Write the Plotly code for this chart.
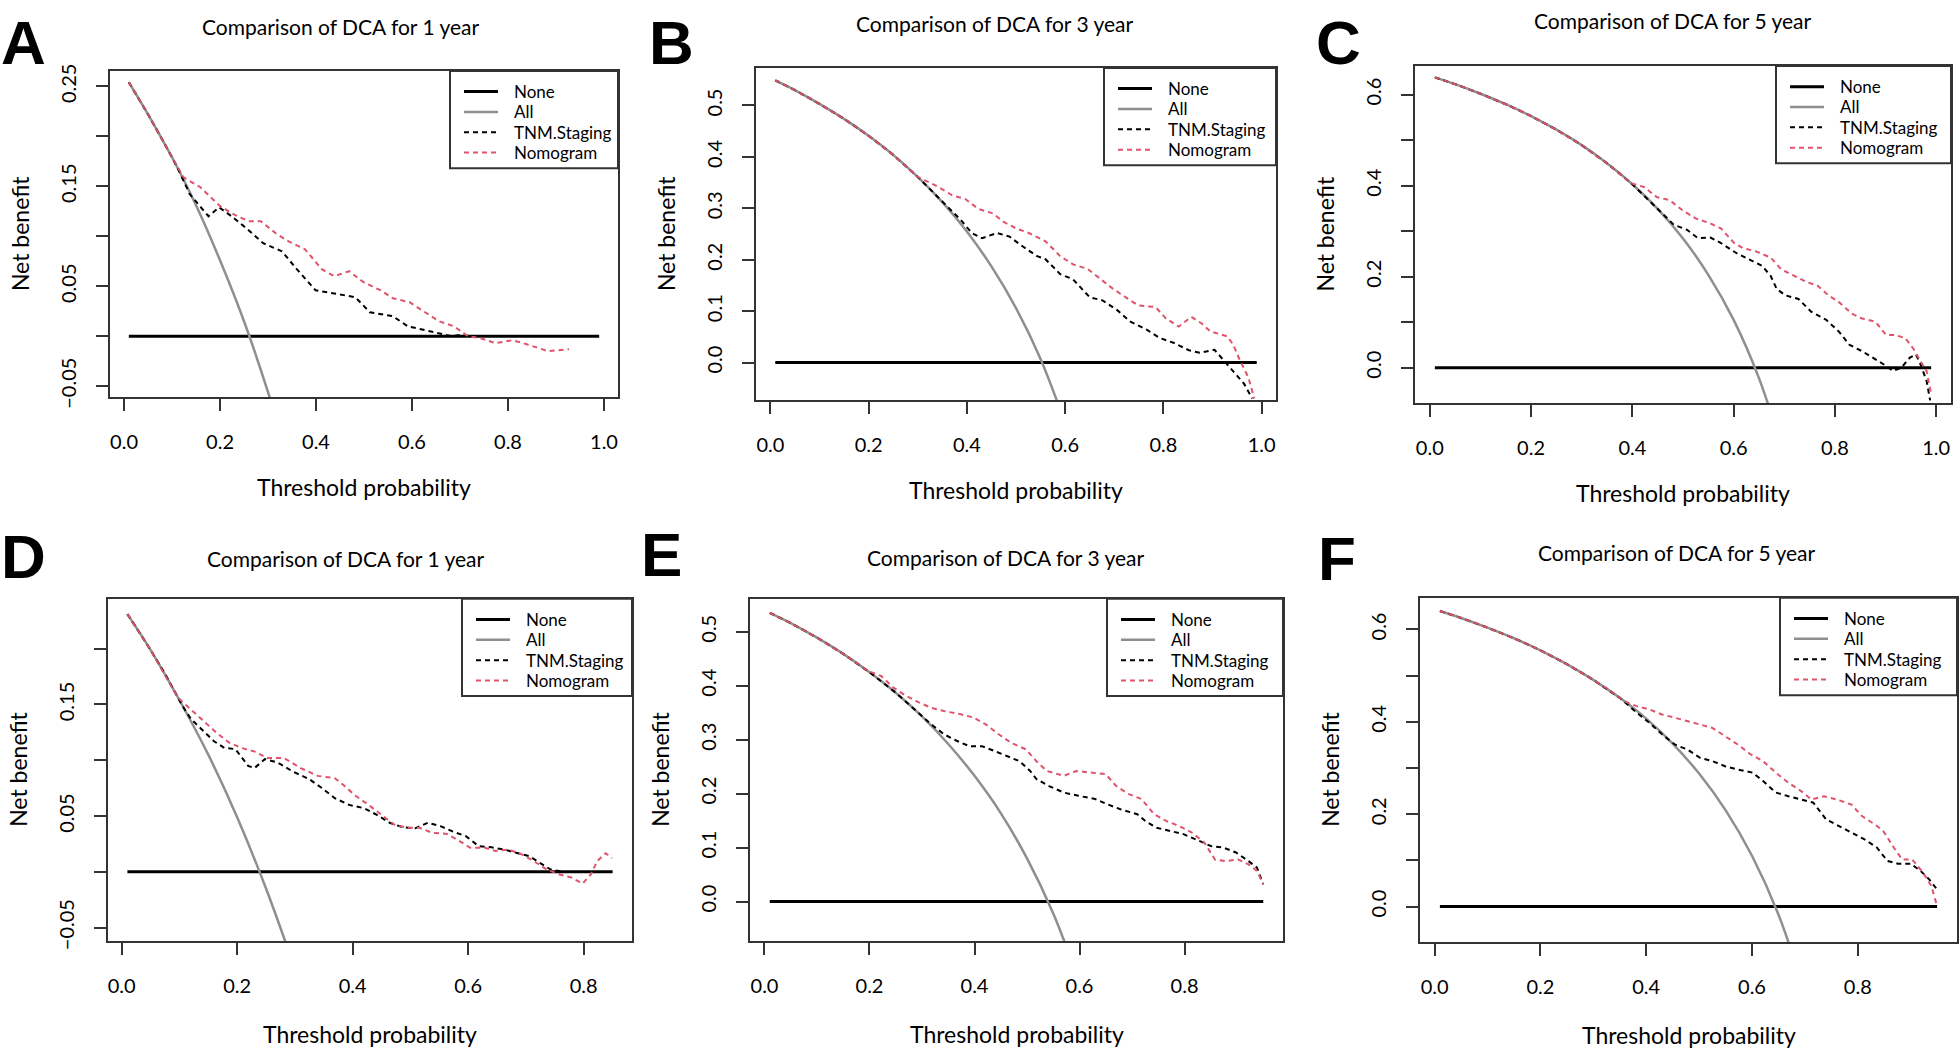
import plotly.graph_objects as go

W, H = 1960, 1062

# ---------------- data ----------------
# panel A - 1 year (training)
a_all_x = [0.01, 0.05, 0.10, 0.15, 0.20, 0.25, 0.30, 0.35]
a_all_y = [0.254, 0.222, 0.179, 0.131, 0.076, 0.015, -0.056, -0.137]
a_tnm_x = [0.01, 0.05, 0.10, 0.115, 0.137, 0.176, 0.198, 0.224, 0.255, 0.29, 0.329, 0.36,
           0.399, 0.447, 0.482, 0.512, 0.56, 0.591, 0.656, 0.682, 0.709]
a_tnm_y = [0.254, 0.222, 0.179, 0.165, 0.142, 0.12, 0.129, 0.12, 0.108, 0.093, 0.085, 0.067,
           0.046, 0.042, 0.039, 0.024, 0.02, 0.01, 0.003, 0.0, 0.002]
a_nomo_x = [0.01, 0.05, 0.10, 0.124, 0.159, 0.198, 0.224, 0.259, 0.285, 0.316, 0.342, 0.377,
            0.412, 0.438, 0.469, 0.499, 0.534, 0.56, 0.595, 0.621, 0.656, 0.687, 0.717, 0.743,
            0.774, 0.809, 0.839, 0.883, 0.927]
a_nomo_y = [0.254, 0.222, 0.179, 0.159, 0.149, 0.131, 0.123, 0.115, 0.115, 0.103, 0.095, 0.087,
            0.067, 0.06, 0.065, 0.054, 0.046, 0.038, 0.034, 0.026, 0.015, 0.01, 0.0, -0.002,
            -0.007, -0.004, -0.008, -0.015, -0.013]

# panel B - 3 year (training)
b_all_x = [0.01, 0.05, 0.10, 0.15, 0.20, 0.25, 0.30, 0.35, 0.40, 0.45, 0.50, 0.55, 0.60]
b_all_y = [0.549, 0.530, 0.503, 0.474, 0.441, 0.404, 0.361, 0.312, 0.255, 0.187, 0.106, 0.007, -0.118]
b_tnm_x = [0.01, 0.05, 0.10, 0.15, 0.20, 0.25, 0.30, 0.354, 0.388, 0.41, 0.431, 0.461, 0.487,
           0.509, 0.543, 0.56, 0.59, 0.616, 0.65, 0.676, 0.706, 0.732, 0.766, 0.792, 0.822,
           0.852, 0.874, 0.904, 0.921, 0.938, 0.964, 0.981]
b_tnm_y = [0.549, 0.530, 0.503, 0.474, 0.441, 0.404, 0.361, 0.309, 0.277, 0.252, 0.242, 0.252,
           0.245, 0.229, 0.207, 0.201, 0.172, 0.162, 0.127, 0.121, 0.102, 0.08, 0.064, 0.048,
           0.038, 0.024, 0.019, 0.025, 0.006, -0.013, -0.041, -0.07]
b_nomo_x = [0.01, 0.05, 0.10, 0.15, 0.20, 0.25, 0.30, 0.337, 0.371, 0.397, 0.423, 0.453, 0.474,
            0.5, 0.526, 0.56, 0.59, 0.616, 0.646, 0.672, 0.698, 0.728, 0.749, 0.784, 0.805,
            0.831, 0.857, 0.878, 0.895, 0.93, 0.942, 0.955, 0.973, 0.985]
b_nomo_y = [0.549, 0.530, 0.503, 0.474, 0.441, 0.404, 0.361, 0.344, 0.325, 0.318, 0.299, 0.29,
            0.274, 0.261, 0.252, 0.236, 0.207, 0.191, 0.182, 0.162, 0.143, 0.124, 0.111, 0.108,
            0.086, 0.07, 0.089, 0.076, 0.061, 0.051, 0.035, 0.006, -0.029, -0.07]

# panel C - 5 year (training)
c_all_x = [0.01, 0.05, 0.10, 0.15, 0.20, 0.25, 0.30, 0.35, 0.40, 0.45, 0.50, 0.55, 0.60, 0.65, 0.70]
c_all_y = [0.638, 0.623, 0.602, 0.579, 0.553, 0.523, 0.489, 0.449, 0.403, 0.349, 0.284, 0.204,
           0.105, -0.023, -0.193]
c_tnm_x = [0.01, 0.05, 0.10, 0.15, 0.20, 0.25, 0.30, 0.35, 0.40, 0.457, 0.482, 0.508, 0.529,
           0.554, 0.575, 0.605, 0.63, 0.656, 0.673, 0.685, 0.702, 0.728, 0.753, 0.783, 0.808,
           0.829, 0.854, 0.88, 0.901, 0.914, 0.931, 0.948, 0.96, 0.969, 0.981, 0.988]
c_tnm_y = [0.638, 0.623, 0.602, 0.579, 0.553, 0.523, 0.489, 0.449, 0.403, 0.341, 0.314, 0.303,
           0.285, 0.286, 0.274, 0.252, 0.238, 0.224, 0.202, 0.173, 0.159, 0.151, 0.123, 0.105,
           0.079, 0.05, 0.036, 0.018, 0.004, -0.007, 0.0, 0.022, 0.029, 0.007, -0.029, -0.072]
c_nomo_x = [0.01, 0.05, 0.10, 0.15, 0.20, 0.25, 0.30, 0.35, 0.398, 0.423, 0.448, 0.474, 0.499,
            0.525, 0.554, 0.575, 0.601, 0.618, 0.643, 0.673, 0.694, 0.719, 0.745, 0.766, 0.787,
            0.808, 0.833, 0.854, 0.88, 0.901, 0.918, 0.939, 0.956, 0.969, 0.981, 0.99]
c_nomo_y = [0.638, 0.623, 0.602, 0.579, 0.553, 0.523, 0.489, 0.449, 0.405, 0.397, 0.375, 0.368,
            0.346, 0.328, 0.317, 0.306, 0.274, 0.263, 0.256, 0.242, 0.216, 0.202, 0.188, 0.18,
            0.159, 0.144, 0.119, 0.108, 0.101, 0.072, 0.072, 0.065, 0.04, 0.014, -0.007, -0.058]

# panel D - 1 year (validation)
d_all_x = [0.01, 0.05, 0.10, 0.15, 0.20, 0.25, 0.30]
d_all_y = [0.231, 0.199, 0.154, 0.105, 0.049, -0.015, -0.087]
d_tnm_x = [0.01, 0.05, 0.0755, 0.105, 0.12, 0.1415, 0.16, 0.178, 0.197, 0.219, 0.23, 0.248,
           0.27, 0.296, 0.325, 0.347, 0.369, 0.394, 0.42, 0.442, 0.464, 0.486, 0.508, 0.53,
           0.552, 0.574, 0.596, 0.618, 0.64, 0.662, 0.684, 0.706, 0.724, 0.743, 0.765]
d_tnm_y = [0.231, 0.199, 0.177, 0.149, 0.137, 0.126, 0.117, 0.111, 0.11, 0.095, 0.093, 0.101,
           0.098, 0.09, 0.083, 0.075, 0.066, 0.06, 0.057, 0.051, 0.044, 0.04, 0.039, 0.044,
           0.041, 0.036, 0.032, 0.023, 0.022, 0.02, 0.017, 0.014, 0.008, 0.002, 0.0]
d_nomo_x = [0.01, 0.05, 0.0975, 0.12, 0.1415, 0.1635, 0.1855, 0.2075, 0.2295, 0.2515, 0.281,
            0.31, 0.3395, 0.369, 0.3835, 0.4055, 0.4275, 0.4495, 0.4715, 0.4935, 0.5155,
            0.5375, 0.563, 0.585, 0.6035, 0.629, 0.6475, 0.6695, 0.6915, 0.7135, 0.7355,
            0.7575, 0.7795, 0.798, 0.8125, 0.8235, 0.838, 0.849]
d_nomo_y = [0.231, 0.199, 0.156, 0.1455, 0.135, 0.125, 0.116, 0.111, 0.108, 0.102, 0.102,
            0.093, 0.086, 0.084, 0.078, 0.068, 0.06, 0.051, 0.0425, 0.0395, 0.0395, 0.035,
            0.034, 0.0276, 0.0216, 0.0216, 0.0187, 0.02, 0.016, 0.0097, 0.0022, -0.0022,
            -0.0052, -0.0106, -0.0022, 0.0097, 0.0167, 0.0123]

# panel E - 3 year (validation)
e_all_x = [0.01, 0.05, 0.10, 0.15, 0.20, 0.25, 0.30, 0.35, 0.40, 0.45, 0.50, 0.55, 0.60]
e_all_y = [0.535, 0.516, 0.489, 0.459, 0.425, 0.387, 0.343, 0.292, 0.233, 0.164, 0.08, -0.022, -0.15]
e_tnm_x = [0.01, 0.05, 0.10, 0.15, 0.20, 0.25, 0.294, 0.318, 0.342, 0.366, 0.39, 0.414, 0.438,
           0.462, 0.486, 0.506, 0.518, 0.542, 0.57, 0.598, 0.63, 0.654, 0.678, 0.71, 0.726,
           0.746, 0.774, 0.798, 0.822, 0.85, 0.874, 0.898, 0.922, 0.938, 0.95]
e_tnm_y = [0.535, 0.516, 0.489, 0.459, 0.425, 0.387, 0.349, 0.328, 0.31, 0.298, 0.288, 0.288,
           0.279, 0.27, 0.26, 0.242, 0.227, 0.214, 0.202, 0.196, 0.19, 0.18, 0.171, 0.162,
           0.149, 0.137, 0.131, 0.125, 0.115, 0.103, 0.1, 0.091, 0.075, 0.063, 0.032]
e_nomo_x = [0.01, 0.05, 0.10, 0.15, 0.198, 0.222, 0.246, 0.27, 0.294, 0.318, 0.342, 0.374,
            0.398, 0.422, 0.446, 0.47, 0.498, 0.518, 0.538, 0.57, 0.594, 0.618, 0.65, 0.67,
            0.694, 0.718, 0.742, 0.766, 0.79, 0.814, 0.838, 0.858, 0.878, 0.902, 0.922, 0.938, 0.95]
e_nomo_y = [0.535, 0.516, 0.489, 0.459, 0.427, 0.418, 0.396, 0.381, 0.369, 0.359, 0.353, 0.347,
            0.341, 0.328, 0.31, 0.294, 0.282, 0.26, 0.242, 0.233, 0.242, 0.239, 0.236, 0.214,
            0.199, 0.19, 0.162, 0.149, 0.14, 0.128, 0.109, 0.078, 0.075, 0.078, 0.069, 0.057, 0.032]

# panel F - 5 year (validation)
f_all_x = [0.01, 0.05, 0.10, 0.15, 0.20, 0.25, 0.30, 0.35, 0.40, 0.45, 0.50, 0.55, 0.60, 0.65, 0.70]
f_all_y = [0.640, 0.625, 0.604, 0.581, 0.555, 0.525, 0.491, 0.452, 0.407, 0.353, 0.288, 0.209,
           0.11, -0.017, -0.187]
f_tnm_x = [0.01, 0.05, 0.10, 0.15, 0.20, 0.25, 0.30, 0.35, 0.382, 0.406, 0.43, 0.454, 0.478,
           0.502, 0.525, 0.549, 0.573, 0.601, 0.621, 0.645, 0.669, 0.693, 0.716, 0.74, 0.764,
           0.788, 0.812, 0.836, 0.856, 0.876, 0.9, 0.919, 0.935, 0.95]
f_tnm_y = [0.640, 0.625, 0.604, 0.581, 0.555, 0.525, 0.491, 0.452, 0.42, 0.398, 0.373, 0.351,
           0.34, 0.322, 0.315, 0.304, 0.297, 0.29, 0.272, 0.247, 0.239, 0.232, 0.225, 0.189,
           0.175, 0.16, 0.146, 0.128, 0.099, 0.093, 0.093, 0.077, 0.059, 0.037]
f_nomo_x = [0.01, 0.05, 0.10, 0.15, 0.20, 0.25, 0.30, 0.33, 0.358, 0.382, 0.406, 0.43, 0.454,
            0.478, 0.502, 0.525, 0.549, 0.573, 0.597, 0.621, 0.645, 0.669, 0.693, 0.712, 0.736,
            0.76, 0.788, 0.808, 0.832, 0.848, 0.868, 0.884, 0.903, 0.923, 0.939, 0.95]
f_nomo_y = [0.640, 0.625, 0.604, 0.581, 0.555, 0.525, 0.491, 0.469, 0.445, 0.434, 0.427, 0.416,
            0.409, 0.402, 0.394, 0.387, 0.369, 0.351, 0.33, 0.315, 0.29, 0.268, 0.25, 0.232,
            0.239, 0.232, 0.221, 0.196, 0.178, 0.164, 0.128, 0.102, 0.102, 0.074, 0.045, 0.001]

# "None" strategy is flat at 0 over the evaluated thresholds
none_x_full = [0.01, 0.99]
none_x_d = [0.01, 0.85]
none_x_ef = [0.01, 0.95]
none_y = [0, 0]

legend_names = ["None", "All", "TNM.Staging", "Nomogram"]
years = [1, 3, 5, 1, 3, 5]
letters = ["A", "B", "C", "D", "E", "F"]

x_ticks_10 = [0, 0.2, 0.4, 0.6, 0.8, 1.0]
x_text_10 = ["0.0", "0.2", "0.4", "0.6", "0.8", "1.0"]
x_ticks_08 = [0, 0.2, 0.4, 0.6, 0.8]
x_text_08 = ["0.0", "0.2", "0.4", "0.6", "0.8"]
y_ticks_small = [-0.05, 0, 0.05, 0.10, 0.15, 0.20, 0.25]
y_text_small = ["\u22120.05", "", "0.05", "", "0.15", "", "0.25"]
y_ticks_05 = [0, 0.1, 0.2, 0.3, 0.4, 0.5]
y_text_05 = ["0.0", "0.1", "0.2", "0.3", "0.4", "0.5"]
y_ticks_06 = [0, 0.1, 0.2, 0.3, 0.4, 0.5, 0.6]
y_text_06 = ["0.0", "", "0.2", "", "0.4", "", "0.6"]

# ---------------- layout of the six panels (pixel boxes: left, right, top, bottom) ----------------
panels = [
    dict(box=(110, 618, 65, 397), xr=[-0.0292, 1.0292], yr=[-0.0611, 0.2654],
         xt=(x_ticks_10, x_text_10), yt=(y_ticks_small, y_text_small),
         lines=(none_x_full, a_all_x, a_all_y, a_tnm_x, a_tnm_y, a_nomo_x, a_nomo_y),
         title=(340, 20), letter=(0, 0), legw=168, xlab=91),
    dict(box=(756, 1276, 62, 400), xr=[-0.0292, 1.0292], yr=[-0.0732, 0.573],
         xt=(x_ticks_10, x_text_10), yt=(y_ticks_05, y_text_05),
         lines=(none_x_full, b_all_x, b_all_y, b_tnm_x, b_tnm_y, b_nomo_x, b_nomo_y),
         title=(994, 17), letter=(648, 0), legw=172, xlab=91),
    dict(box=(1415, 1951, 60, 403), xr=[-0.0292, 1.0292], yr=[-0.078, 0.663],
         xt=(x_ticks_10, x_text_10), yt=(y_ticks_06, y_text_06),
         lines=(none_x_full, c_all_x, c_all_y, c_tnm_x, c_tnm_y, c_nomo_x, c_nomo_y),
         title=(1672, 14), letter=(1315, 0), legw=175, xlab=91),
    dict(box=(108, 632, 602, 950), xr=[-0.0236, 0.8836], yr=[-0.0619, 0.2447],
         xt=(x_ticks_08, x_text_08), yt=(y_ticks_small[:-1], y_text_small[:-1]),
         lines=(none_x_d, d_all_x, d_all_y, d_tnm_x, d_tnm_y, d_nomo_x, d_nomo_y),
         title=(345, 561), letter=(0, 523), legw=170, xlab=95),
    dict(box=(750, 1283, 602, 950), xr=[-0.0276, 0.9876], yr=[-0.0728, 0.561],
         xt=(x_ticks_08, x_text_08), yt=(y_ticks_05, y_text_05),
         lines=(none_x_ef, e_all_x, e_all_y, e_tnm_x, e_tnm_y, e_nomo_x, e_nomo_y),
         title=(1005, 560), letter=(640, 521), legw=176, xlab=95),
    dict(box=(1420, 1957, 601, 951), xr=[-0.0276, 0.9876], yr=[-0.0764, 0.6686],
         xt=(x_ticks_08, x_text_08), yt=(y_ticks_06, y_text_06),
         lines=(none_x_ef, f_all_x, f_all_y, f_tnm_x, f_tnm_y, f_nomo_x, f_nomo_y),
         title=(1676, 555), letter=(1317, 525), legw=177, xlab=95),
]

FONT = "Lato"
BOX = "#333333"
PINK = "#DF536B"
GREY = "#8F8F8F"
styles = [
    dict(color="black", width=3, dash="solid"),
    dict(color=GREY, width=2.5, dash="solid"),
    dict(color="black", width=2, dash="5px,4px"),
    dict(color=PINK, width=2, dash="5px,4px"),
]


def px(x):
    return x / W


def py(y):
    return 1 - y / H


fig = go.Figure()
annotations = []
shapes = []
layout = {}

for i, p in enumerate(panels):
    n = "" if i == 0 else str(i + 1)
    L, R, T, B = p["box"]
    none_x, all_x, all_y, tnm_x, tnm_y, nomo_x, nomo_y = p["lines"]
    series = [(none_x, none_y), (all_x, all_y), (tnm_x, tnm_y), (nomo_x, nomo_y)]
    for (xs, ys), name, st in zip(series, legend_names, styles):
        fig.add_trace(go.Scatter(
            x=xs, y=ys, name=name, mode="lines", showlegend=False,
            line=dict(color=st["color"], width=st["width"], dash=st["dash"],
                      shape="spline" if name == "All" else "linear"),
            xaxis="x" + n, yaxis="y" + n))

    layout["xaxis" + n] = dict(
        domain=[px(L), px(R)], anchor="y" + n, range=p["xr"],
        tickvals=p["xt"][0], ticktext=p["xt"][1],
        showline=True, mirror=True, linecolor=BOX, linewidth=2,
        ticks="outside", ticklen=12, tickwidth=2, tickcolor=BOX,
        ticklabelstandoff=14, showgrid=False, zeroline=False,
        tickfont=dict(family=FONT, size=20, color="black"))
    layout["yaxis" + n] = dict(
        domain=[py(B), py(T)], anchor="x" + n, range=p["yr"],
        tickvals=p["yt"][0], ticktext=p["yt"][1], tickangle=-90,
        showline=True, mirror=True, linecolor=BOX, linewidth=2,
        ticks="outside", ticklen=12, tickwidth=2, tickcolor=BOX,
        ticklabelstandoff=12, showgrid=False, zeroline=False,
        tickfont=dict(family=FONT, size=20, color="black"))

    tx, ty = p["title"]
    annotations.append(dict(
        x=px(tx), y=py(ty), xref="paper", yref="paper", showarrow=False,
        text=f"Comparison of DCA for {years[i]} year", xanchor="center", yanchor="middle",
        font=dict(family=FONT, size=21, color="black")))
    lx, ly = p["letter"]
    annotations.append(dict(
        x=px(lx), y=py(ly), xref="paper", yref="paper", showarrow=False,
        text=letters[i], xanchor="left", yanchor="top", borderpad=0,
        font=dict(family="Liberation Sans", size=62, color="black", weight="bold")))
    annotations.append(dict(
        x=px(L - 90), y=py((T + B) / 2), xref="paper", yref="paper", showarrow=False,
        text="Net benefit", textangle=-90, xanchor="center", yanchor="middle",
        font=dict(family=FONT, size=23, color="black")))
    annotations.append(dict(
        x=px((L + R) / 2), y=py(B + p["xlab"]), xref="paper", yref="paper", showarrow=False,
        text="Threshold probability", xanchor="center", yanchor="middle",
        font=dict(family=FONT, size=23, color="black")))

    # legend box in the top-right corner of each panel
    lx0 = R - p["legw"]
    shapes.append(dict(type="rect", xref="paper", yref="paper",
                       x0=px(lx0), x1=px(R), y0=py(T + 99), y1=py(T),
                       line=dict(color=BOX, width=2), fillcolor="white", layer="above"))
    for k, (name, st) in enumerate(zip(legend_names, styles)):
        yk = T + 21 + k * 20.7
        shapes.append(dict(type="line", xref="paper", yref="paper",
                           x0=px(lx0 + 14), x1=px(lx0 + 48), y0=py(yk), y1=py(yk),
                           line=dict(color=st["color"], width=st["width"], dash=st["dash"]),
                           layer="above"))
        annotations.append(dict(
            x=px(lx0 + 62), y=py(yk), xref="paper", yref="paper", showarrow=False,
            text=name, xanchor="left", yanchor="middle",
            font=dict(family=FONT, size=17, color="black")))

fig.update_layout(
    width=W, height=H, margin=dict(l=0, r=0, t=0, b=0),
    paper_bgcolor="white", plot_bgcolor="white",
    showlegend=False, annotations=annotations, shapes=shapes, **layout)

# page margin off so the 1960x1062 figure fills the window exactly
fig.write_html("out.html", config={"displayModeBar": False},
               post_script="document.body.style.margin='0px';document.body.style.overflow='hidden';")
